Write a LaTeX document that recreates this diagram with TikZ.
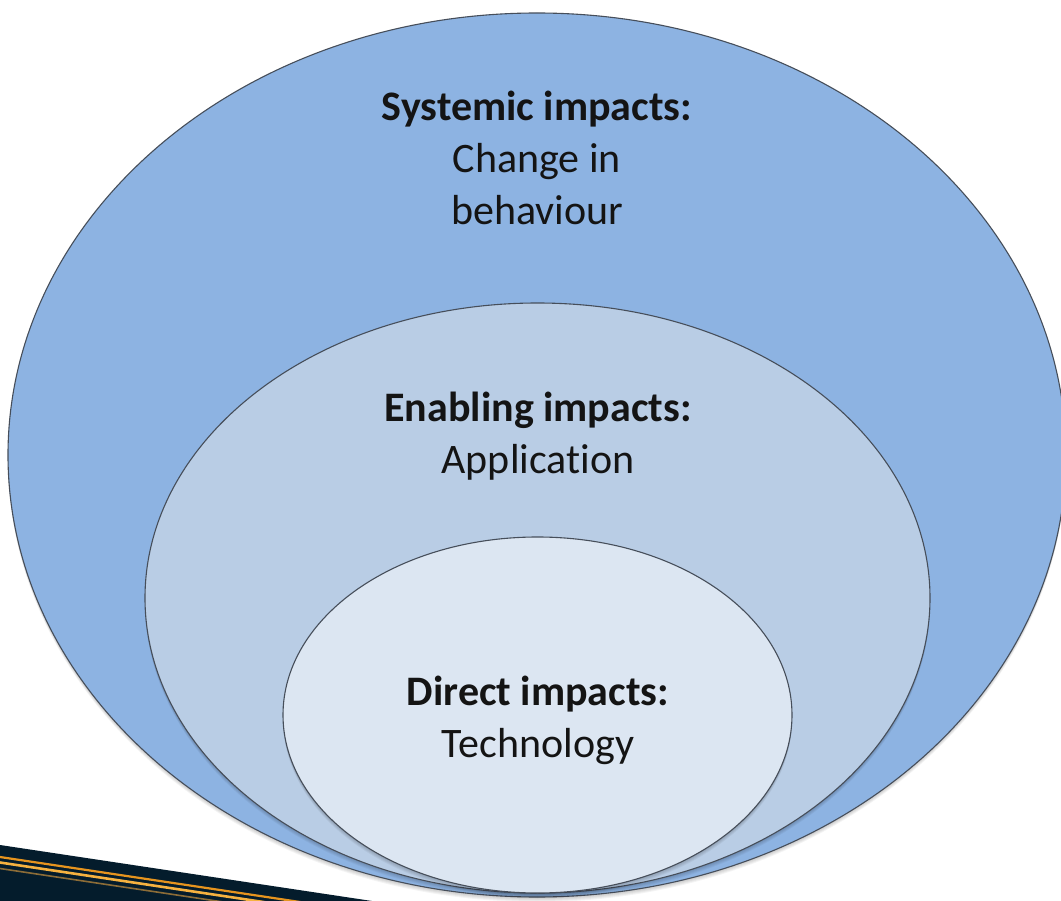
\documentclass[tikz,border=0pt]{standalone}
\usepackage{fontspec}
\setmainfont{Carlito}[Ligatures=NoCommon]
\usetikzlibrary{shapes.geometric}

\definecolor{outerblue}{RGB}{141,179,226}
\definecolor{midblue}{RGB}{185,205,229}
\definecolor{innerblue}{RGB}{220,230,242}
\definecolor{ringline}{RGB}{70,78,90}
\definecolor{bandnavy}{RGB}{4,28,44}
\definecolor{stripeA}{RGB}{230,148,30}
\definecolor{stripeB}{RGB}{246,178,64}
\definecolor{stripeC}{RGB}{140,108,55}
\definecolor{labeltext}{RGB}{20,20,20}

\tikzset{
  ring/.style={ellipse, draw=ringline, line width=1.1pt, inner sep=0pt, outer sep=0pt},
  % anchored on the baseline of the last line
  ringlabel/.style={align=center, anchor=base, text=labeltext,
    font=\fontsize{42}{52}\selectfont},
  stripe/.style={line width=#1, line cap=butt},
}

% soft shadow under an ellipse: centre, x radius, y radius
\newcommand{\ringshadow}[4]{%
  \foreach \s in {1,...,5}{%
    \fill[black, opacity=0.045] (#1,#2+\s) ellipse [x radius=#3pt, y radius=#4pt];
  }%
}

\begin{document}
\begin{tikzpicture}[x=1pt,y=-1pt]
  \useasboundingbox (0,0) rectangle (1061,901);
  \fill[white] (0,0) rectangle (1061,901);
  \begin{scope}
    \clip (0,0) rectangle (1061,901);

    % dark band with stripes, lower left
    \fill[bandnavy] (0,845) -- (372,901) -- (0,901) -- cycle;
    \draw[stripeA, stripe=2.2pt] (0,857) -- (400,917);
    \draw[stripeB, stripe=2.6pt] (0,862.5) -- (400,922.5);
    \draw[stripeC, stripe=1.6pt] (0,868.5) -- (400,928.5);

    % outer ring: systemic impacts
    \ringshadow{537}{455}{529}{442}
    \node[ring, fill=outerblue, minimum width=1058pt, minimum height=884pt] (outer) at (537,455) {};

    % middle ring: enabling impacts
    \ringshadow{537.5}{598}{392.5}{295}
    \node[ring, fill=midblue, minimum width=785pt, minimum height=590pt] (middle) at (537.5,598) {};

    % inner ring: direct impacts
    \ringshadow{537.5}{715}{254.5}{178}
    \node[ring, fill=innerblue, minimum width=509pt, minimum height=356pt] (inner) at (537.5,715) {};
  \end{scope}

  \node[ringlabel] (systemic) at (537,225) {\textbf{Systemic impacts:}\\Change in\\behaviour};
  \node[ringlabel] (enabling) at (538,473) {\textbf{Enabling impacts:}\\Application};
  \node[ringlabel] (direct) at (538,757) {\textbf{Direct impacts:}\\Technology};
\end{tikzpicture}
\end{document}
